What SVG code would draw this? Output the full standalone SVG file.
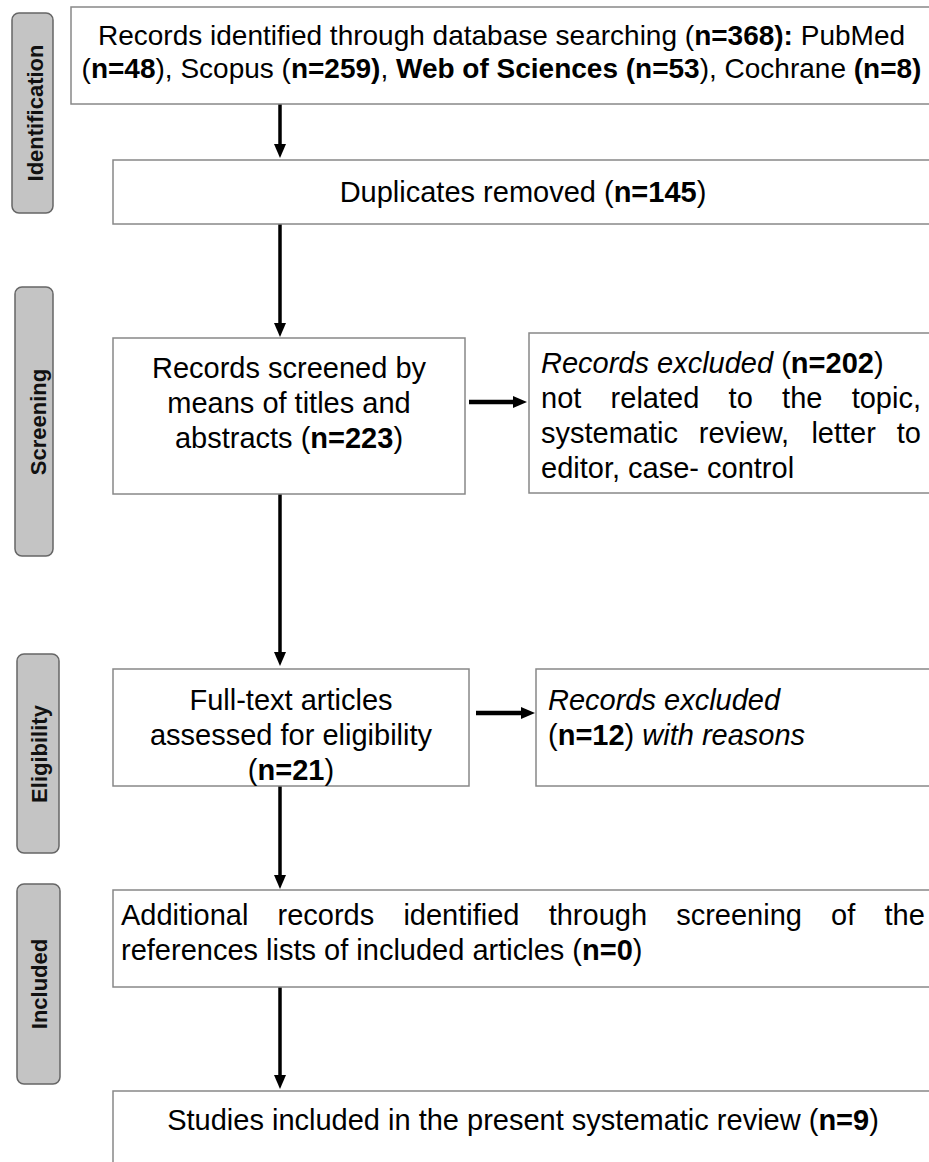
<svg xmlns="http://www.w3.org/2000/svg" width="929" height="1162" viewBox="0 0 929 1162">
<style>
.box{fill:#fff;stroke:#888;stroke-width:1.5}
.lab{fill:#c4c4c4;stroke:#666;stroke-width:1.5}
.t{font-family:"Liberation Sans",Arial,sans-serif;fill:#000}
.f28{font-size:28px}
.f29{font-size:29px}
.lt{font-family:"Liberation Sans",Arial,sans-serif;font-size:22px;font-weight:bold;fill:#111;text-anchor:middle}
.b{font-weight:bold}
.i{font-style:italic}
.c{text-anchor:middle}
.con{stroke:#000;stroke-width:3.5;fill:none;marker-end:url(#ah)}
.conh{stroke:#000;stroke-width:4.5;fill:none;marker-end:url(#ah)}
</style>
<defs>
<marker id="ah" markerUnits="userSpaceOnUse" markerWidth="14" markerHeight="12" refX="4" refY="6" orient="auto">
<path d="M0,0 L14,6 L0,12 z" fill="#000"/>
</marker>
</defs>
<rect width="929" height="1162" fill="#fff"/>

<g id="label-identification"><rect class="lab" x="12" y="13" width="41" height="200" rx="7"/><text class="lt" transform="translate(43,113) rotate(-90)">Identification</text></g>
<g id="label-screening"><rect class="lab" x="15" y="287" width="38" height="269" rx="7"/><text class="lt" transform="translate(46,422) rotate(-90)">Screening</text></g>
<g id="label-eligibility"><rect class="lab" x="17" y="654" width="42" height="199" rx="7"/><text class="lt" transform="translate(47,754) rotate(-90)">Eligibility</text></g>
<g id="label-included"><rect class="lab" x="17" y="884" width="43" height="200" rx="7"/><text class="lt" transform="translate(47,984) rotate(-90)">Included</text></g>

<g id="connectors">
<line class="con" x1="280" y1="104" x2="280" y2="148"/>
<line class="con" x1="280" y1="224" x2="280" y2="327"/>
<line class="con" x1="280" y1="494" x2="280" y2="656"/>
<line class="con" x1="280" y1="786" x2="280" y2="879"/>
<line class="con" x1="280" y1="987" x2="280" y2="1079"/>
<line class="conh" x1="469" y1="402" x2="517" y2="402"/>
<line class="conh" x1="476" y1="713" x2="525" y2="713"/>
</g>

<g id="node-identified">
<rect class="box" x="71" y="7" width="861" height="97"/>
<text class="t f28 c" x="501.5" y="45">Records identified through database searching (<tspan class="b">n=368):</tspan> PubMed</text>
<text class="t f28 c" x="501.5" y="78">(<tspan class="b">n=48</tspan>), Scopus (<tspan class="b">n=259)</tspan>, <tspan class="b">Web of Sciences (n=53</tspan>), Cochrane <tspan class="b">(n=8)</tspan></text>
</g>

<g id="node-duplicates">
<rect class="box" x="113" y="160" width="819" height="64"/>
<text class="t f29 c" x="523" y="202">Duplicates removed (<tspan class="b">n=145</tspan>)</text>
</g>

<g id="node-screened">
<rect class="box" x="113" y="338" width="352" height="156"/>
<text class="t f29 c" x="289" y="378">Records screened by</text>
<text class="t f29 c" x="289" y="413">means of titles and</text>
<text class="t f29 c" x="289" y="448">abstracts (<tspan class="b">n=223</tspan>)</text>
</g>

<g id="node-excluded1">
<rect class="box" x="529" y="333" width="403" height="160"/>
<text class="t f29" x="541" y="373"><tspan class="i">Records excluded</tspan> (<tspan class="b">n=202</tspan>)</text>
<text class="t f29" y="408"><tspan x="541">not</tspan><tspan x="610.6">related</tspan><tspan x="728.6">to</tspan><tspan x="782.1">the</tspan><tspan x="851.7">topic,</tspan></text>
<text class="t f29" y="443"><tspan x="541">systematic</tspan><tspan x="698.8">review,</tspan><tspan x="811.4">letter</tspan><tspan x="896.7">to</tspan></text>
<text class="t f29" x="541" y="478">editor, case- control</text>
</g>

<g id="node-fulltext">
<rect class="box" x="113" y="669" width="356" height="117"/>
<text class="t f29 c" x="291" y="710">Full-text articles</text>
<text class="t f29 c" x="291" y="745">assessed for eligibility</text>
<text class="t f29 c" x="291" y="780">(<tspan class="b">n=21</tspan>)</text>
</g>

<g id="node-excluded2">
<rect class="box" x="536" y="669" width="396" height="117"/>
<text class="t f29 i" x="548" y="710">Records excluded</text>
<text class="t f29" x="548" y="745">(<tspan class="b">n=12</tspan>) <tspan class="i">with reasons</tspan></text>
</g>

<g id="node-additional">
<rect class="box" x="113" y="890" width="819" height="97"/>
<text class="t f29" y="925"><tspan x="121">Additional</tspan><tspan x="277.5">records</tspan><tspan x="403.4">identified</tspan><tspan x="548.7">through</tspan><tspan x="676.2">screening</tspan><tspan x="831.1">of</tspan><tspan x="884.5">the</tspan></text>
<text class="t f29" x="121" y="960">references lists of included articles (<tspan class="b">n=0</tspan>)</text>
</g>

<g id="node-studies">
<rect class="box" x="113" y="1091" width="819" height="100"/>
<text class="t f29 c" x="523" y="1130">Studies included in the present systematic review (<tspan class="b">n=9</tspan>)</text>
</g>
</svg>
